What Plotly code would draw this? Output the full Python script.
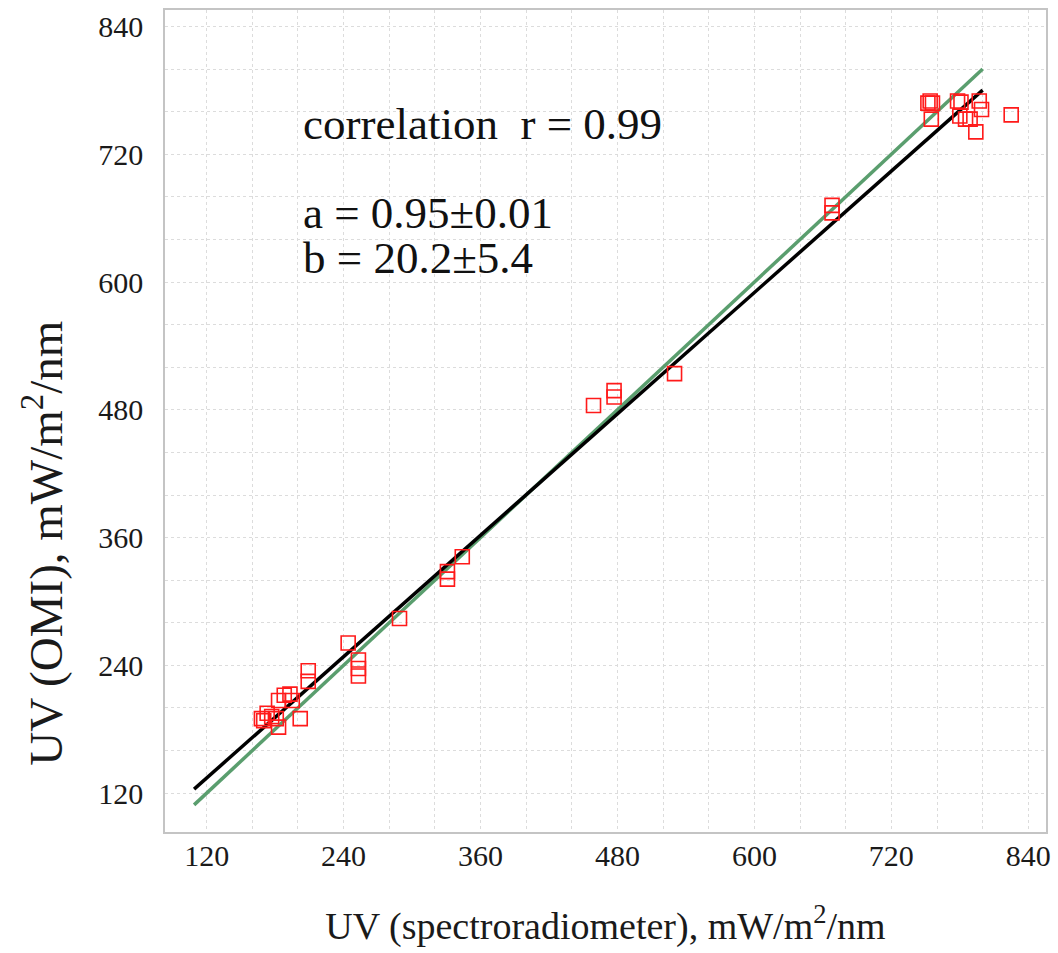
import plotly.graph_objects as go

# Spectroradiometer vs OMI UV irradiance, mW/m^2/nm
uv_spectro = [168, 170, 173, 177, 181, 183, 183, 188, 193, 195, 202, 209, 209,
              244, 253, 253, 253, 289, 331, 331, 344, 459, 477, 477, 530,
              668, 668, 752, 754, 756, 755, 778, 781, 780, 785, 789, 797, 799,
              794, 825]
uv_omi = [190, 188, 195, 192, 190, 207, 182, 212, 213, 207, 190, 235, 225,
          261, 245, 237, 230, 284, 328, 321, 342, 484, 498, 492, 514,
          672, 665, 768, 770, 768, 753, 770, 769, 756, 753, 753, 770, 762,
          741, 757]

# Regression fit y = a*x + b and the 1:1 reference line
fit_a = 0.95
fit_b = 20.2
line_x = [109, 800]
fit_y = [fit_a * v + fit_b for v in line_x]
one_to_one_y = list(line_x)

axis_range = [83.5, 855.5]
tick_vals = [120, 240, 360, 480, 600, 720, 840]

font_family = "Liberation Serif"
text_color = "#1a1a1a"

fig = go.Figure()
fig.add_trace(go.Scatter(
    x=line_x, y=one_to_one_y, mode="lines",
    line=dict(color="#5a9e6e", width=3.5), showlegend=False))
fig.add_trace(go.Scatter(
    x=line_x, y=fit_y, mode="lines",
    line=dict(color="black", width=3.5), showlegend=False))
fig.add_trace(go.Scatter(
    x=uv_spectro, y=uv_omi, mode="markers",
    marker=dict(symbol="square-open", size=14, color="#ff1a1a",
                line=dict(width=1.6, color="#ff1a1a")),
    showlegend=False))

axis_common = dict(
    range=axis_range,
    tickvals=tick_vals,
    ticks="",
    showline=True, mirror=True, linecolor="#c4c4c4", linewidth=1.5,
    showgrid=True, gridcolor="#dcdcdc", gridwidth=1, griddash="dot",
    minor=dict(dtick=40, tick0=0, showgrid=True, gridcolor="#dcdcdc",
               gridwidth=1, griddash="dot"),
    zeroline=False,
    tickfont=dict(family=font_family, size=30, color=text_color),
)

fig.update_layout(
    width=1058, height=953,
    margin=dict(l=165, r=7, t=10, b=121),
    paper_bgcolor="white", plot_bgcolor="white",
    xaxis=dict(**axis_common, ticklabelstandoff=-4,
               title=dict(text="UV (spectroradiometer), mW/m<sup>2</sup>/nm",
                          font=dict(family=font_family, size=38, color=text_color),
                          standoff=42)),
    yaxis=dict(**axis_common, ticklabelstandoff=14),
    font=dict(family=font_family, color=text_color),
)

plot_left, plot_right, plot_top, plot_bottom = 165, 1051, 10, 832


def px_to_paper(px, py):
    return ((px - plot_left) / (plot_right - plot_left),
            1 - (py - plot_top) / (plot_bottom - plot_top))


# Vertical axis title, placed along the left margin
tx, ty = px_to_paper(42, 543)
fig.add_annotation(
    x=tx, y=ty, xref="paper", yref="paper", showarrow=False,
    xanchor="center", yanchor="middle", textangle=-90,
    text="UV (OMI), mW/m<sup>2</sup>/nm",
    font=dict(family=font_family, size=47, color=text_color))

# Correlation and regression coefficients
stats_lines = [
    (124, "correlation  r = 0.99"),
    (213, f"a = {fit_a:.2f}±0.01"),
    (258, f"b = {fit_b:.1f}±5.4"),
]
for py, txt in stats_lines:
    ax_, ay_ = px_to_paper(302, py)
    fig.add_annotation(
        x=ax_, y=ay_, xref="paper", yref="paper", showarrow=False,
        xanchor="left", yanchor="middle", text=txt,
        font=dict(family=font_family, size=45, color="#111111"))

fig.write_html("out.html")
